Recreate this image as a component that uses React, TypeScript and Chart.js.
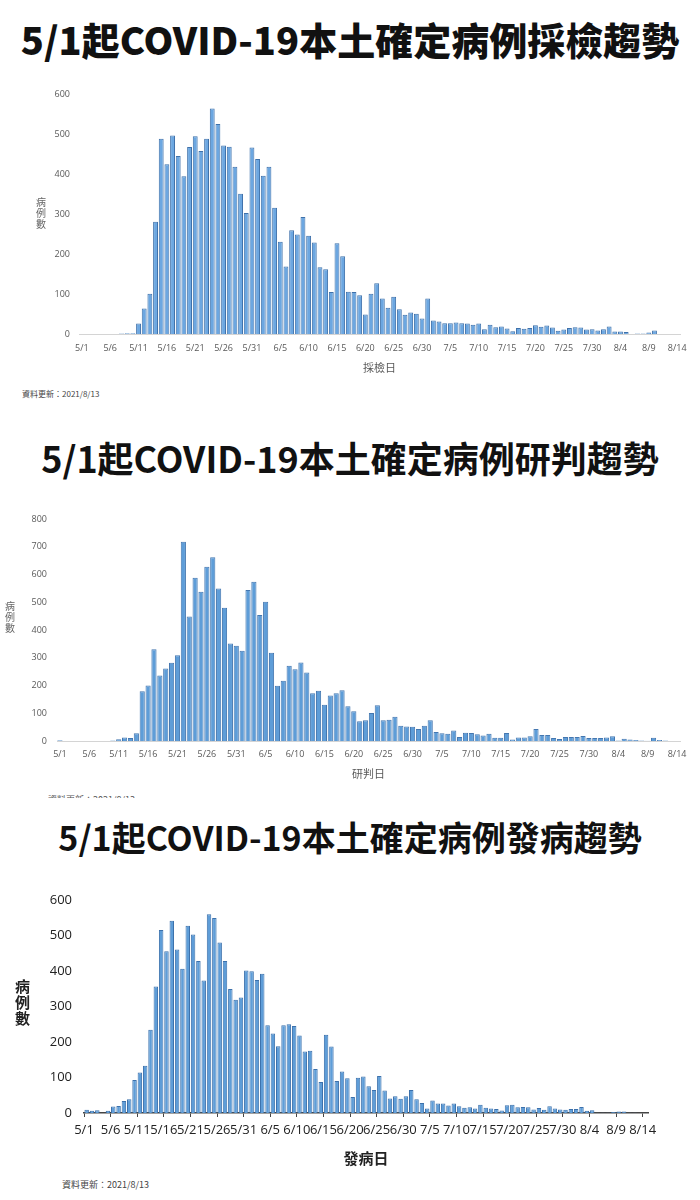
import React, { useEffect, useRef } from 'react';
import { Chart, registerables } from 'chart.js';
Chart.register(...registerables);

// ---- categories: every day from 5/1 to 8/14 ----
const MONTH_SPANS: number[][] = [[5, 31], [6, 30], [7, 31], [8, 14]];
const DAYS: string[] = [];
for (const [m, n] of MONTH_SPANS) for (let d = 1; d <= n; d++) DAYS.push(`${m}/${d}`);
const TICK_EVERY = 5;

// ---- series: 採檢日 (sampling date) ----
const SAMPLING: number[] = [
  0, 0, 0, 0, 0, 0, 0, 1, 2, 2,
  26, 64, 101, 281, 489, 425, 497, 446, 395, 468,
  495, 458, 489, 565, 526, 472, 469, 419, 351, 303, 467,
  438, 396, 419, 316, 231, 169, 260, 249, 293, 246,
  229, 167, 162, 105, 227, 195, 106, 105, 97, 49,
  101, 127, 89, 66, 93, 62, 48, 54, 51, 39,
  89, 34, 31, 27, 27, 29, 27, 26, 23, 26,
  12, 23, 17, 19, 14, 7, 15, 13, 15, 22,
  18, 21, 16, 8, 11, 15, 17, 16, 11, 12, 9,
  12, 19, 6, 6, 5, 0, 1, 1, 4, 9, 0, 0, 0, 0,
];

// ---- series: 研判日 (confirmation date) ----
const CONFIRM: number[] = [
  3, 0, 0, 0, 0, 0, 0, 0, 0, 2,
  6, 13, 11, 28, 179, 200, 331, 236, 261, 282,
  309, 718, 449, 588, 538, 628, 662, 550, 480, 351, 343,
  325, 544, 574, 454, 502, 318, 199, 217, 271, 259,
  283, 247, 172, 181, 131, 164, 172, 183, 125, 107,
  71, 75, 101, 129, 75, 77, 87, 55, 52, 51,
  43, 55, 75, 32, 28, 26, 38, 14, 30, 29,
  24, 20, 26, 12, 12, 29, 5, 13, 13, 17,
  43, 22, 22, 11, 7, 14, 14, 14, 18, 11, 11,
  11, 13, 17, 2, 8, 5, 4, 2, 1, 12, 4, 2, 0, 0,
];

// ---- series: 發病日 (onset date) ----
const ONSET: number[] = [
  9, 6, 8, 0, 6, 18, 20, 34, 39, 93,
  114, 133, 234, 356, 515, 455, 541, 460, 406, 527,
  502, 428, 373, 559, 549, 480, 428, 349, 319, 325, 401,
  399, 374, 392, 247, 224, 188, 247, 250, 245, 218,
  173, 175, 124, 87, 220, 187, 90, 117, 98, 45,
  99, 103, 75, 65, 104, 63, 41, 47, 40, 47,
  65, 39, 28, 13, 35, 27, 27, 21, 27, 19,
  15, 16, 13, 23, 15, 13, 11, 7, 22, 23,
  16, 17, 16, 10, 14, 9, 19, 13, 10, 9, 11,
  11, 17, 6, 8, 1, 1, 1, 3, 4, 4, 1, 1, 0, 0,
];

const TITLE_PREFIX = '5/1起COVID-19本土確定病例';
const TITLES = [TITLE_PREFIX + '採檢趨勢', TITLE_PREFIX + '研判趨勢', TITLE_PREFIX + '發病趨勢'];
const X_TITLES = ['採檢日', '研判日', '發病日'];
const Y_TITLE = ['病', '例', '數'];
const UPDATED = '資料更新：2021/8/13';

const FONT = '"Open Sans", "Noto Sans CJK TC", sans-serif';
const CJK = '"Noto Sans CJK TC", sans-serif';

type Spec = {
  data: number[];
  top: number;
  height: number;
  yMax: number;
  yAxisWidth: number;
  xAxisHeight: number;
  pad: { left: number; right: number; top: number; bottom: number };
  tickFont: number;
  tickColor: string;
  tickPad: number;
  yTickPad: number;
  xTitle: string;
  xTitleFont: number;
  xTitleBold: boolean;
  xTitleColor: string;
  xTitlePadBottom: number;
  axisColor: string;
  axisWidth: number;
  tickMarks: boolean;
  fill: string;
  edge: string;
  barPct: number;
};

function BarChart({ s }: { s: Spec }) {
  const ref = useRef<HTMLCanvasElement | null>(null);
  useEffect(() => {
    if (!ref.current) return;
    const slot = s.xAxisHeight;
    const chart = new Chart(ref.current, {
      type: 'bar',
      data: {
        labels: DAYS,
        datasets: [{
          data: s.data,
          backgroundColor: s.fill,
          borderColor: s.edge,
          borderWidth: 1,
          barPercentage: s.barPct,
          categoryPercentage: 1,
        }],
      },
      options: {
        animation: false,
        responsive: false,
        maintainAspectRatio: false,
        layout: { padding: s.pad },
        plugins: { legend: { display: false }, tooltip: { enabled: false } },
        scales: {
          x: {
            offset: true,
            grid: s.tickMarks
              ? {
                  display: true,
                  drawOnChartArea: false,
                  drawTicks: true,
                  tickLength: 4,
                  offset: true,
                  color: (c: any) => (typeof c.index === 'number' && c.index % TICK_EVERY === 0 ? s.axisColor : 'rgba(0,0,0,0)'),
                }
              : { display: false, drawTicks: false },
            border: { display: true, color: s.axisColor, width: s.axisWidth },
            ticks: {
              autoSkip: false,
              maxRotation: 0,
              minRotation: 0,
              padding: s.tickPad,
              color: s.tickColor,
              font: { family: FONT, size: s.tickFont },
              labelOffset: s.tickMarks ? -2.66 : 0,
              callback: (_v: any, i: number) => (i % TICK_EVERY === 0 ? DAYS[i] : ''),
            },
            title: {
              display: true,
              text: s.xTitle,
              color: s.xTitleColor,
              font: { family: CJK, size: s.xTitleFont, weight: s.xTitleBold ? 'bold' : 'normal' },
              padding: { top: 0, bottom: s.xTitlePadBottom },
            },
            afterFit: (sc: any) => { sc.height = slot; },
          },
          y: {
            min: 0,
            max: s.yMax,
            grid: { display: false, drawTicks: false },
            border: { display: false },
            ticks: {
              stepSize: 100,
              padding: s.yTickPad,
              color: s.tickColor,
              font: { family: FONT, size: s.tickFont },
            },
            afterFit: (sc: any) => { sc.width = s.yAxisWidth; },
          },
        },
      } as any,
    });
    return () => chart.destroy();
  }, [s]);
  return (
    <canvas
      ref={ref}
      width={700}
      height={s.height}
      style={{ position: 'absolute', left: 0, top: s.top, width: 700, height: s.height }}
    />
  );
}

const SPEC1: Spec = {
  data: SAMPLING, top: 80, height: 300, yMax: 600, yAxisWidth: 79, xAxisHeight: 46,
  pad: { left: 0, right: 20, top: 12, bottom: 0 },
  tickFont: 9, tickColor: '#595959', tickPad: 9, yTickPad: 9,
  xTitle: X_TITLES[0], xTitleFont: 11, xTitleBold: false, xTitleColor: '#595959', xTitlePadBottom: 6,
  axisColor: '#d4d4d4', axisWidth: 1, tickMarks: false,
  fill: '#6CA7E1', edge: '#3F71AA', barPct: 0.86,
};
const SPEC2: Spec = {
  data: CONFIRM, top: 500, height: 285, yMax: 800, yAxisWidth: 57, xAxisHeight: 44,
  pad: { left: 0, right: 20, top: 19, bottom: 0 },
  tickFont: 9, tickColor: '#595959', tickPad: 8, yTickPad: 10,
  xTitle: X_TITLES[1], xTitleFont: 11, xTitleBold: false, xTitleColor: '#595959', xTitlePadBottom: 5,
  axisColor: '#d4d4d4', axisWidth: 1, tickMarks: false,
  fill: '#5E9DD8', edge: '#4477B0', barPct: 0.88,
};
const SPEC3: Spec = {
  data: ONSET, top: 880, height: 290, yMax: 600, yAxisWidth: 84, xAxisHeight: 57,
  pad: { left: 0, right: 52, top: 19, bottom: 0 },
  tickFont: 13, tickColor: '#222222', tickPad: 5, yTickPad: 12,
  xTitle: X_TITLES[2], xTitleFont: 15, xTitleBold: true, xTitleColor: '#222222', xTitlePadBottom: 3,
  axisColor: '#444444', axisWidth: 1.5, tickMarks: true,
  fill: '#5E9DD8', edge: '#3C71AC', barPct: 0.84,
};

function Title({ text, top, size, weight }: { text: string; top: number; size: number; weight: number }) {
  return (
    <div style={{
      position: 'absolute', left: 0, top, width: 700, textAlign: 'center',
      fontFamily: CJK, fontSize: size, fontWeight: weight, lineHeight: `${size}px`, color: '#111', whiteSpace: 'nowrap',
    }}>{text}</div>
  );
}

function YTitle({ left, top, size, bold, color }: { left: number; top: number; size: number; bold: boolean; color: string }) {
  return (
    <div style={{
      position: 'absolute', left, top, fontFamily: CJK, fontSize: size, lineHeight: `${size + 1}px`,
      fontWeight: bold ? 700 : 400, color,
    }}>
      {Y_TITLE.map((c) => <div key={c}>{c}</div>)}
    </div>
  );
}

export default function App() {
  return (
    <div style={{ position: 'absolute', left: 0, top: 0, width: 700, height: 1200, background: '#fff', overflow: 'hidden' }}>
      <Title text={TITLES[0]} top={20} size={38} weight={900} />
      <BarChart s={SPEC1} />
      <YTitle left={36} top={196} size={10} bold={false} color="#666" />
      <div style={{ position: 'absolute', left: 22, top: 389, fontFamily: CJK, fontSize: 8, lineHeight: '10px', color: '#444' }}>{UPDATED}</div>

      <Title text={TITLES[1]} top={439} size={36} weight={700} />
      <BarChart s={SPEC2} />
      <YTitle left={5} top={600} size={10} bold={false} color="#666" />
      <div style={{ position: 'absolute', left: 48, top: 794, height: 4, overflow: 'hidden' }}>
        <div style={{ fontFamily: CJK, fontSize: 9, lineHeight: '11px', color: '#555', whiteSpace: 'nowrap' }}>{UPDATED}</div>
      </div>

      <Title text={TITLES[2]} top={820} size={34} weight={700} />
      <BarChart s={SPEC3} />
      <YTitle left={15} top={978} size={15} bold={true} color="#222" />
      <div style={{ position: 'absolute', left: 62, top: 1179, fontFamily: CJK, fontSize: 9, lineHeight: '12px', color: '#444' }}>{UPDATED}</div>
    </div>
  );
}
